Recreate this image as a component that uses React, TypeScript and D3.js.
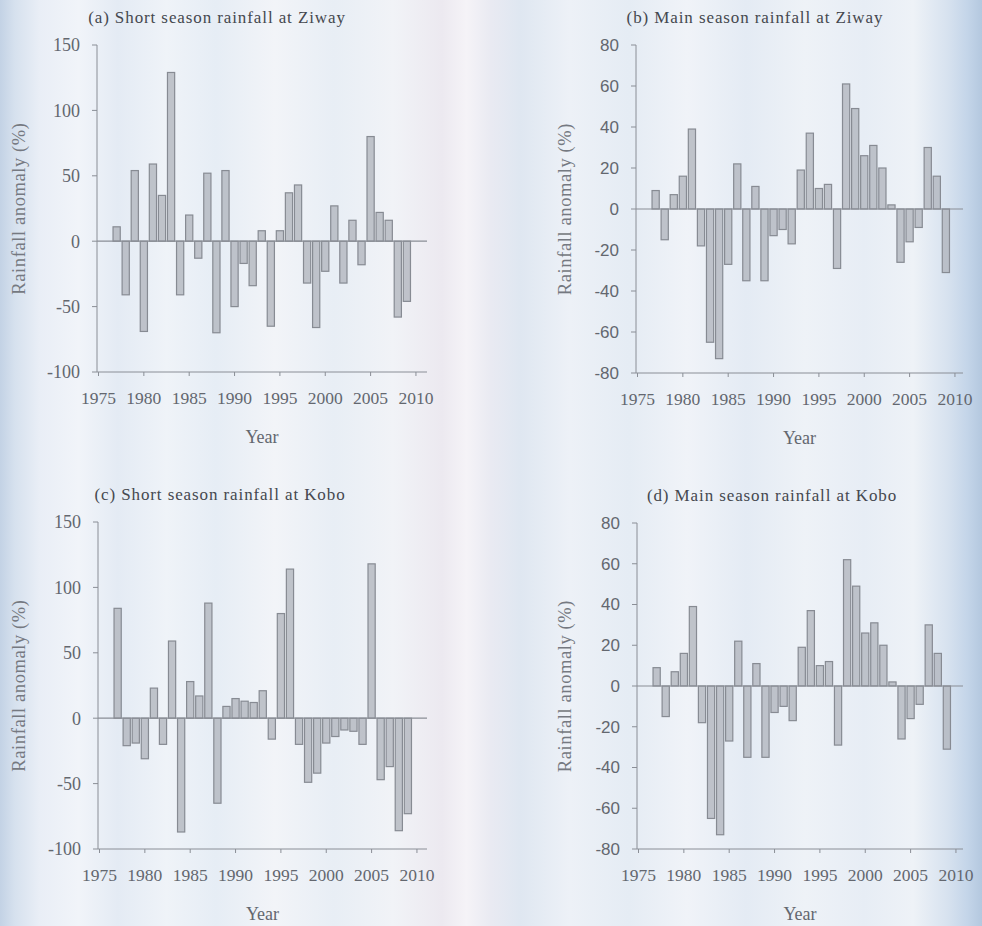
import React, { useEffect } from 'react';
import * as d3 from 'd3';

// Rainfall anomaly (%) per year, 1977–2009
const YEARS = [
  1977, 1978, 1979, 1980, 1981, 1982, 1983, 1984, 1985, 1986,
  1987, 1988, 1989, 1990, 1991, 1992, 1993, 1994, 1995, 1996,
  1997, 1998, 1999, 2000, 2001, 2002, 2003, 2004, 2005, 2006,
  2007, 2008, 2009,
];

const ZIWAY_SHORT = [
  11, -41, 54, -69, 59, 35, 129, -41, 20, -13,
  52, -70, 54, -50, -17, -34, 8, -65, 8, 37,
  43, -32, -66, -23, 27, -32, 16, -18, 80, 22,
  16, -58, -46,
];

const ZIWAY_MAIN = [
  9, -15, 7, 16, 39, -18, -65, -73, -27, 22,
  -35, 11, -35, -13, -10, -17, 19, 37, 10, 12,
  -29, 61, 49, 26, 31, 20, 2, -26, -16, -9,
  30, 16, -31,
];

const KOBO_SHORT = [
  84, -21, -19, -31, 23, -20, 59, -87, 28, 17,
  88, -65, 9, 15, 13, 12, 21, -16, 80, 114,
  -20, -49, -42, -19, -14, -9, -10, -20, 118, -47,
  -37, -86, -73,
];

const KOBO_MAIN = [
  9, -15, 7, 16, 39, -18, -65, -73, -27, 22,
  -35, 11, -35, -13, -10, -17, 19, 37, 10, 12,
  -29, 62, 49, 26, 31, 20, 2, -26, -16, -9,
  30, 16, -31,
];

const X_TICKS = [1975, 1980, 1985, 1990, 1995, 2000, 2005, 2010];
const SHORT_TICKS = [-100, -50, 0, 50, 100, 150];
const MAIN_TICKS = [-80, -60, -40, -20, 0, 20, 40, 60, 80];

const TITLES = [
  '(a) Short season rainfall at Ziway',
  '(b) Main season rainfall at Ziway',
  '(c) Short season rainfall at Kobo',
  '(d) Main season rainfall at Kobo',
];

const W = 982;
const H = 926;

const SERIF = '"Liberation Serif", "DejaVu Serif", serif';
const SANS = '"Liberation Sans", Arial, sans-serif';

type PanelProps = {
  title: string;
  values: number[];
  ticks: number[];
  domain: [number, number];
  axisX: number;
  axisRight: number;
  top: number;
  bottom: number;
  titleX: number;
  labelX: number;
  sansTicks: boolean;
};

function Panel(p: PanelProps) {
  const x = d3.scaleLinear().domain([1975, 2010]).range([p.axisX + 1.5, p.axisX + 1.5 + 35 * 9.07]);
  const y = d3.scaleLinear().domain(p.domain).range([p.bottom, p.top]);
  const bw = 7.2;
  const axisCol = '#8a8e96';
  const textCol = '#63676f';
  const midX = (p.axisX + p.axisRight) / 2;
  const midY = (p.top + p.bottom) / 2;

  return (
    <g>
      <text
        x={p.titleX}
        y={p.top - 22}
        textAnchor="middle"
        fontFamily={SERIF}
        fontSize={17}
        letterSpacing={0.9}
        fill="#45484f"
      >
        {p.title}
      </text>

      {/* bars */}
      {YEARS.map((yr, i) => {
        const v = p.values[i];
        const y0 = y(0);
        const yv = y(v);
        return (
          <rect
            key={yr}
            x={x(yr) - bw / 2}
            y={Math.min(y0, yv)}
            width={bw}
            height={Math.abs(yv - y0)}
            fill="#afb3bb"
            fillOpacity={0.75}
            stroke="#878b93"
            strokeWidth={1.2}
          />
        );
      })}

      {/* zero line */}
      <line x1={p.axisX} x2={p.axisRight} y1={y(0)} y2={y(0)} stroke={axisCol} strokeWidth={1.2} />

      {/* y axis */}
      <line x1={p.axisX} x2={p.axisX} y1={p.top} y2={p.bottom} stroke={axisCol} strokeWidth={1} />
      {p.ticks.map((t) => (
        <g key={t}>
          <line x1={p.axisX - 5} x2={p.axisX} y1={y(t)} y2={y(t)} stroke={axisCol} strokeWidth={1} />
          <text
            x={p.axisX - 17}
            y={y(t)}
            dy="0.35em"
            textAnchor="end"
            fontFamily={p.sansTicks ? SANS : SERIF}
            fontSize={p.sansTicks ? 17 : 18}
            fill={textCol}
          >
            {t}
          </text>
        </g>
      ))}

      {/* x axis */}
      <line x1={p.axisX} x2={p.axisRight} y1={p.bottom} y2={p.bottom} stroke={axisCol} strokeWidth={1} />
      {X_TICKS.map((t) => (
        <g key={t}>
          <line x1={x(t)} x2={x(t)} y1={p.bottom} y2={p.bottom + 4} stroke={axisCol} strokeWidth={1} />
          <text
            x={x(t)}
            y={p.bottom + 32}
            textAnchor="middle"
            fontFamily={SERIF}
            fontSize={17.5}
            fill={textCol}
          >
            {t}
          </text>
        </g>
      ))}

      <text
        x={midX}
        y={p.bottom + 71}
        textAnchor="middle"
        fontFamily={SERIF}
        fontSize={18}
        fill={textCol}
      >
        Year
      </text>

      <text
        transform={`translate(${p.labelX},${midY}) rotate(-90)`}
        textAnchor="middle"
        dy="0.35em"
        fontFamily={SERIF}
        fontSize={18.5}
        letterSpacing={0.6}
        fill="#757981"
      >
        Rainfall anomaly (%)
      </text>
    </g>
  );
}

export default function App() {
  useEffect(() => {
    document.body.style.margin = '0';
  }, []);

  const stripes = [
    [0, '#c3d2e5'], [1.5, '#d6e1ee'], [4, '#e9eef6'], [8, '#f1f4f9'],
    [12, '#e4ebf4'], [17, '#eff3f8'], [22, '#e6edf5'], [28, '#f2f4f8'],
    [34, '#e8eef5'], [40, '#f1f3f7'], [45, '#ece9f0'], [47.5, '#f5f3f7'],
    [50, '#e9eaf2'], [53, '#dfe7f1'], [58, '#edf1f7'], [64, '#e5ecf4'],
    [70, '#f0f3f8'], [76, '#e4ebf4'], [82, '#eef2f7'], [88, '#e7edf5'],
    [93, '#eef2f7'], [96.5, '#d7e2ef'], [98.5, '#c4d5e9'], [100, '#b4c8df'],
  ] as [number, string][];

  return (
    <div style={{ position: 'absolute', left: 0, top: 0 }}>
      <svg width={W} height={H} viewBox={`0 0 ${W} ${H}`} style={{ display: 'block' }}>
        <defs>
          <linearGradient id="paper" x1="0" y1="0" x2="1" y2="0">
            {stripes.map(([o, c]) => (
              <stop key={o} offset={`${o}%`} stopColor={c} />
            ))}
          </linearGradient>
        </defs>
        <rect x={0} y={0} width={W} height={H} fill="url(#paper)" />

        <Panel
          title={TITLES[0]}
          values={ZIWAY_SHORT}
          ticks={SHORT_TICKS}
          domain={[-100, 150]}
          axisX={97}
          axisRight={427}
          top={45}
          bottom={372}
          titleX={217}
          labelX={19}
          sansTicks={false}
        />
        <Panel
          title={TITLES[1]}
          values={ZIWAY_MAIN}
          ticks={MAIN_TICKS}
          domain={[-80, 80]}
          axisX={636}
          axisRight={963}
          top={45}
          bottom={373}
          titleX={755}
          labelX={565}
          sansTicks={true}
        />
        <Panel
          title={TITLES[2]}
          values={KOBO_SHORT}
          ticks={SHORT_TICKS}
          domain={[-100, 150]}
          axisX={98}
          axisRight={427}
          top={522}
          bottom={849}
          titleX={220}
          labelX={19}
          sansTicks={false}
        />
        <Panel
          title={TITLES[3]}
          values={KOBO_MAIN}
          ticks={MAIN_TICKS}
          domain={[-80, 80]}
          axisX={637}
          axisRight={963}
          top={523}
          bottom={849}
          titleX={772}
          labelX={565}
          sansTicks={true}
        />
      </svg>
    </div>
  );
}
